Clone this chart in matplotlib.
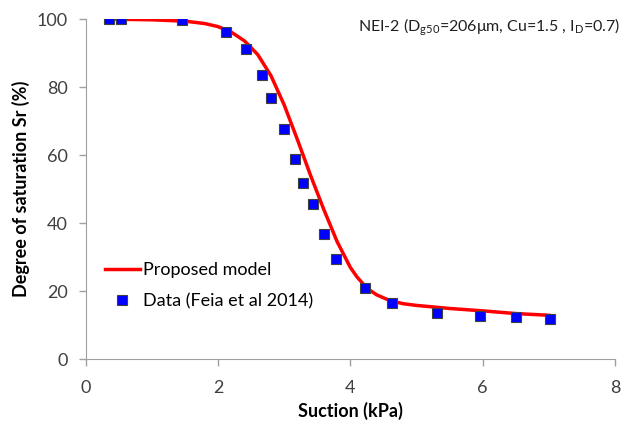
import matplotlib
matplotlib.use("Agg")
import matplotlib.pyplot as plt

# data
data_suction = [0.36, 0.54, 1.45, 2.12, 2.42, 2.66, 2.80, 3.00, 3.17, 3.29,
                3.43, 3.60, 3.78, 4.22, 4.63, 5.31, 5.96, 6.50, 7.02]
data_sr = [100.0, 100.0, 99.6, 96.3, 91.2, 83.5, 76.8, 67.6, 58.8, 51.8,
           45.6, 36.7, 29.4, 20.8, 16.4, 13.7, 12.6, 12.4, 11.9]

model_suction = [0.4, 1.0, 1.5, 1.8, 2.0, 2.2, 2.4, 2.6, 2.8, 3.0, 3.2,
                 3.4, 3.6, 3.8, 4.0, 4.1, 4.2, 4.3, 4.4, 4.6, 4.8, 5.0,
                 5.5, 6.0, 6.5, 7.0]
model_sr = [100.0, 99.8, 99.4, 98.7, 97.8, 96.2, 93.6, 89.6, 83.4, 74.8,
            64.6, 54.0, 44.0, 34.6, 27.0, 24.2, 22.0, 20.2, 18.9, 17.2,
            16.3, 15.8, 14.9, 14.2, 13.4, 12.9]

xticks = [0, 2, 4, 6, 8]
yticks = [0, 20, 40, 60, 80, 100]

plt.rcParams["font.family"] = ["Lato", "DejaVu Sans"]
plt.rcParams["mathtext.fontset"] = "custom"
plt.rcParams["mathtext.rm"] = "Lato"
plt.rcParams["mathtext.it"] = "Lato"

fig = plt.figure(figsize=(6.3, 4.25), dpi=100)
ax = fig.add_axes([0.136, 0.155, 0.84, 0.80])

ax.plot(model_suction, model_sr, color="#ff0000", lw=2.5,
        label="Proposed model", zorder=2)
ax.plot(data_suction, data_sr, "s", color="#0000ff", ms=7.5,
        mec="#404040", mew=0.8, linestyle="none",
        label="Data (Feia et al 2014)", zorder=3)

ax.set_xlim(0, 8)
ax.set_ylim(0, 100)
ax.set_xticks(xticks)
ax.set_yticks(yticks)
ax.tick_params(labelsize=13, colors="#a0a0a0", labelcolor="#404040",
               length=5, width=1, direction="out")
ax.tick_params(axis="x", pad=10)
ax.tick_params(axis="y", pad=8)
for side in ["top", "right"]:
    ax.spines[side].set_visible(False)
for side in ["left", "bottom"]:
    ax.spines[side].set_color("#a0a0a0")

ax.set_xlabel("Suction (kPa)", fontsize=13, fontweight="bold", labelpad=4)
ax.set_ylabel("Degree of saturation Sr (%)", fontsize=13, fontweight="bold",
              labelpad=5)

ax.text(0.515, 0.976,
        "NEI-2 (D$\\mathregular{_{g50}}$=206\u03bcm, Cu=1.5 , "
        "I$\\mathregular{_{D}}$=0.7)",
        transform=ax.transAxes, fontsize=11.5, color="#202020",
        ha="left", va="center", clip_on=False)

ax.legend(loc="center left", bbox_to_anchor=(0.037, 0.216), frameon=False,
          fontsize=13, handlelength=1.9, handletextpad=0.2, labelspacing=0.8,
          borderpad=0, borderaxespad=0)

fig.savefig("out.png", dpi=100)
